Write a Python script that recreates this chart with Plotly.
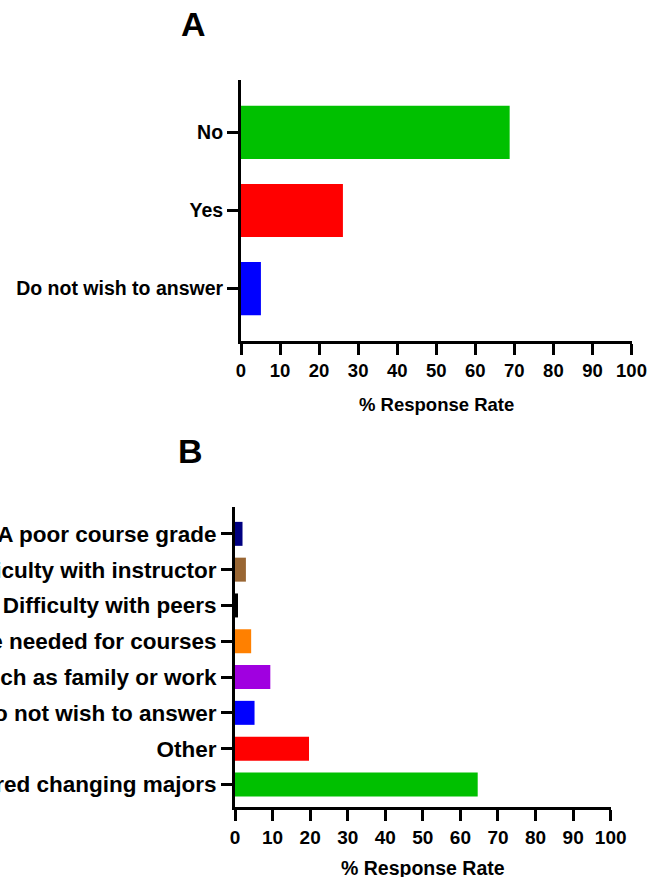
import plotly.graph_objects as go

# Panel A data (bottom to top)
a_categories = ["Do not wish to answer", "Yes", "No"]
a_values = [5.1, 26.1, 68.8]
a_colors = ["#0000FF", "#FF0000", "#00C000"]

# Panel B data (bottom to top)
b_categories = [
    "Never considered changing majors",
    "Other",
    "Do not wish to answer",
    "Personal reasons such as family or work",
    "More time needed for courses",
    "Difficulty with peers",
    "Difficulty with instructor",
    "A poor course grade",
]
b_values = [64.6, 19.7, 5.2, 9.4, 4.3, 0.8, 2.9, 2.0]
b_colors = ["#00C000", "#FF0000", "#0000FF", "#A000E0", "#FF8000", "#000000", "#996633", "#000080"]

x_ticks = list(range(0, 101, 10))

W, H = 647, 877
font_family = "Liberation Sans, Arial, sans-serif"

fig = go.Figure()
fig.add_trace(go.Bar(x=a_values, y=a_categories, orientation="h",
                     marker=dict(color=a_colors, line=dict(width=0)),
                     width=0.68, xaxis="x", yaxis="y", showlegend=False))
fig.add_trace(go.Bar(x=b_values, y=b_categories, orientation="h",
                     marker=dict(color=b_colors, line=dict(width=0)),
                     width=0.67, xaxis="x2", yaxis="y2", showlegend=False))

def px_x(p):
    return p / W

def px_y(p):
    return 1 - p / H

axis_common = dict(showline=True, linecolor="black", linewidth=3, showgrid=False,
                   zeroline=False, ticks="outside", ticklen=11, tickwidth=2.5,
                   tickcolor="black", automargin=False)

def bold(size):
    return dict(family=font_family, size=size, color="black", weight="bold")

fig.update_layout(
    width=W, height=H,
    margin=dict(l=0, r=0, t=0, b=0),
    paper_bgcolor="white", plot_bgcolor="white",
    xaxis=dict(domain=[px_x(241), px_x(631.5)], range=[0, 100], tickvals=x_ticks,
               anchor="y", tickfont=bold(18.5), **axis_common),
    yaxis=dict(domain=[px_y(341), px_y(80)], range=[-0.67, 2.67], anchor="x",
               categoryorder="array", categoryarray=a_categories,
               tickfont=bold(19.5), **axis_common),
    xaxis2=dict(domain=[px_x(235), px_x(610.7)], range=[0, 100], tickvals=x_ticks,
                anchor="y2", tickfont=bold(19), **axis_common),
    yaxis2=dict(domain=[px_y(807), px_y(507)], range=[-0.63, 7.75], anchor="x2",
                categoryorder="array", categoryarray=b_categories,
                tickfont=bold(22.5), **axis_common),
    annotations=[
        dict(text="A", x=px_x(193), y=px_y(24), xref="paper", yref="paper",
             showarrow=False, font=bold(34), xanchor="center", yanchor="middle"),
        dict(text="B", x=px_x(190), y=px_y(451), xref="paper", yref="paper",
             showarrow=False, font=bold(34), xanchor="center", yanchor="middle"),
        dict(text="% Response Rate", x=0.5, y=px_y(404), xref="x domain", yref="paper",
             showarrow=False, font=bold(18.5), xanchor="center", yanchor="middle"),
        dict(text="% Response Rate", x=0.5, y=px_y(868), xref="x2 domain", yref="paper",
             showarrow=False, font=bold(19.5), xanchor="center", yanchor="middle"),
    ],
)

fig.write_html("out.html", config={"displayModeBar": False},
               post_script="document.body.style.margin='0';document.body.style.overflow='hidden';")
